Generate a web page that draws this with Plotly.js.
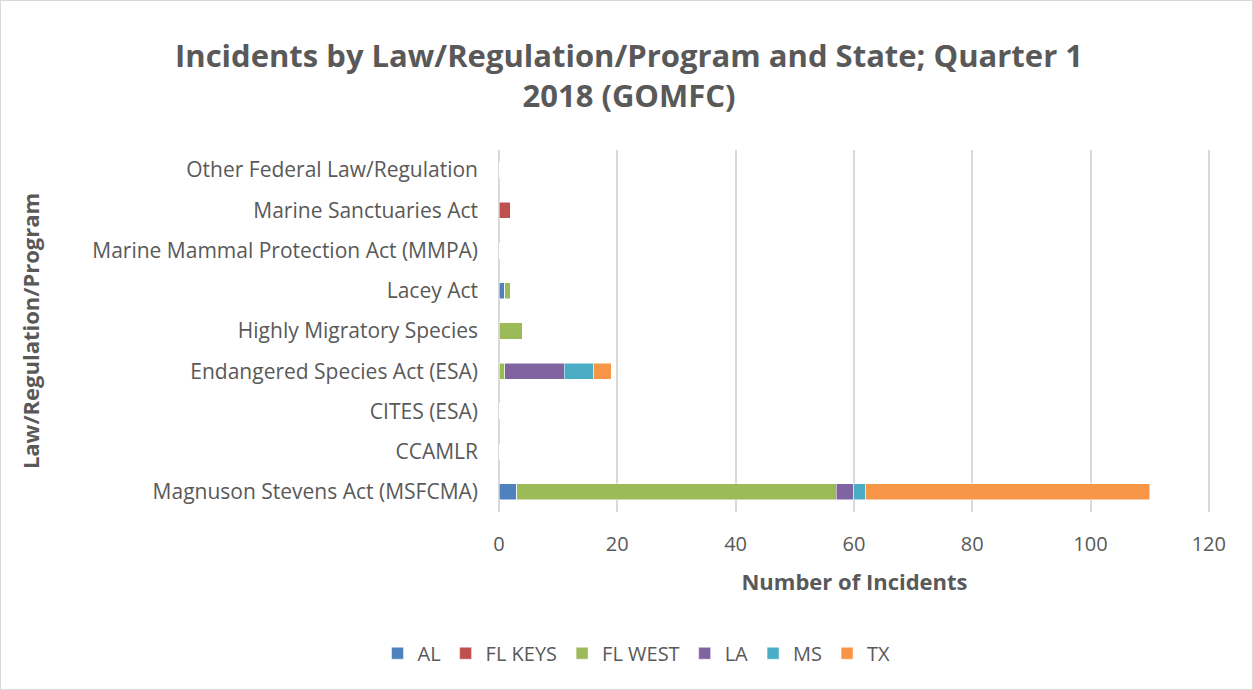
<!DOCTYPE html>
<html>
<head>
<meta charset="utf-8">
<script src="https://cdn.plot.ly/plotly-3.0.1.min.js"></script>
<style>
html,body{margin:0;padding:0;background:#fff;}
#chart{width:1251px;height:688px;border:1px solid #d9d9d9;}
</style>
</head>
<body>
<div id="chart"></div>
<script>
const categories = [
  "Magnuson Stevens Act (MSFCMA)",
  "CCAMLR",
  "CITES (ESA)",
  "Endangered Species Act (ESA)",
  "Highly Migratory Species",
  "Lacey Act",
  "Marine Mammal Protection Act (MMPA)",
  "Marine Sanctuaries Act",
  "Other Federal Law/Regulation"
];
const seriesNames = ["AL", "FL KEYS", "FL WEST", "LA", "MS", "TX"];
const AL      = [3, 0, 0, 0, 0, 1, 0, 0, 0];
const FL_KEYS = [0, 0, 0, 0, 0, 0, 0, 2, 0];
const FL_WEST = [54, 0, 0, 1, 4, 1, 0, 0, 0];
const LA      = [3, 0, 0, 10, 0, 0, 0, 0, 0];
const MS      = [2, 0, 0, 5, 0, 0, 0, 0, 0];
const TX      = [48, 0, 0, 3, 0, 0, 0, 0, 0];
const seriesValues = [AL, FL_KEYS, FL_WEST, LA, MS, TX];
const colors = ["#4f81bd", "#c0504d", "#9bbb59", "#8064a2", "#4bacc6", "#f79646"];

const traces = seriesNames.map((name, i) => ({
  type: "bar",
  orientation: "h",
  name: name,
  y: categories,
  x: seriesValues[i],
  marker: {color: colors[i], line: {color: "#ffffff", width: 0.5}},
  hoverinfo: "x+y+name"
}));

const fontFam = "Open Sans, Liberation Sans, sans-serif";
const layout = {
  width: 1251,
  height: 688,
  barmode: "stack",
  bargap: 0.6,
  paper_bgcolor: "#ffffff",
  plot_bgcolor: "#ffffff",
  margin: {l: 498, r: 42, t: 149, b: 177},
  font: {family: fontFam, color: "#595959", size: 21},
  title: {
    text: "<b>Incidents by Law/Regulation/Program and State; Quarter 1<br>2018 (GOMFC)</b>",
    font: {family: fontFam, size: 31, color: "#595959"},
    x: 0.502, xanchor: "center",
    y: 0.904, yanchor: "middle", yref: "container"
  },
  xaxis: {
    range: [0, 120.2],
    dtick: 20,
    showgrid: true,
    gridcolor: "#d9d9d9",
    gridwidth: 2,
    zeroline: true,
    zerolinecolor: "#d9d9d9",
    zerolinewidth: 2,
    showline: false,
    ticks: "",
    ticklabelstandoff: 18,
    tickfont: {size: 20, color: "#595959"},
    title: {text: "<b>Number of Incidents</b>", font: {size: 22, color: "#595959"}, standoff: 18},
    fixedrange: true
  },
  yaxis: {
    type: "category",
    categoryorder: "array",
    categoryarray: categories,
    range: [-0.5, 8.5],
    showgrid: false,
    zeroline: false,
    showline: false,
    ticks: "",
    ticklabelstandoff: 20,
    tickfont: {size: 21, color: "#595959"},
    title: {text: "<b>Law/Regulation/Program</b>", font: {size: 22, color: "#595959"}, standoff: 46},
    automargin: false,
    fixedrange: true
  },
  showlegend: true,
  legend: {
    orientation: "h",
    xref: "container", yref: "container",
    x: 0.508, xanchor: "center",
    y: 0.052, yanchor: "middle",
    font: {size: 20, color: "#595959"},
    traceorder: "normal",
    itemwidth: 30
  }
};

Plotly.newPlot("chart", traces, layout, {displayModeBar: false, staticPlot: true});
</script>
</body>
</html>
